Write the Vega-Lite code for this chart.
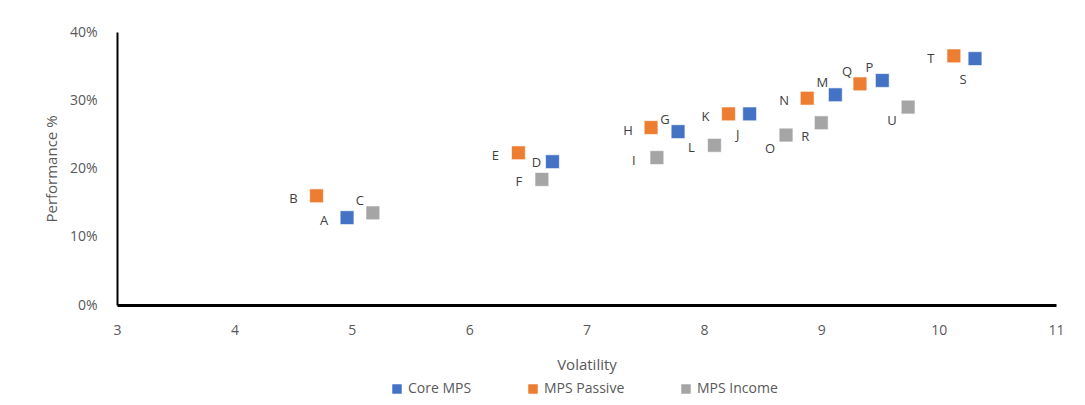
{
  "$schema": "https://vega.github.io/schema/vega-lite/v6.json",
  "autosize": {"type": "none"},
  "width": 939,
  "height": 273,
  "padding": {"left": 117, "top": 32, "right": 29, "bottom": 100},
  "background": "white",
  "config": {
    "view": {"stroke": null},
    "font": "Open Sans",
    "axis": {"grid": false, "ticks": false, "labelColor": "#595959", "titleColor": "#595959", "labelFontSize": 14, "titleFontSize": 15, "titleFontWeight": "normal", "domainColor": "#000000"},
    "legend": {"labelColor": "#595959", "labelFontSize": 14}
  },
  "data": {
    "values": [
      {"label": "A", "series": "Core MPS", "volatility": 4.96, "performance": 0.128},
      {"label": "B", "series": "MPS Passive", "volatility": 4.70, "performance": 0.160},
      {"label": "C", "series": "MPS Income", "volatility": 5.18, "performance": 0.135},
      {"label": "D", "series": "Core MPS", "volatility": 6.71, "performance": 0.210},
      {"label": "E", "series": "MPS Passive", "volatility": 6.42, "performance": 0.223},
      {"label": "F", "series": "MPS Income", "volatility": 6.62, "performance": 0.184},
      {"label": "G", "series": "Core MPS", "volatility": 7.78, "performance": 0.254},
      {"label": "H", "series": "MPS Passive", "volatility": 7.55, "performance": 0.260},
      {"label": "I", "series": "MPS Income", "volatility": 7.60, "performance": 0.216},
      {"label": "J", "series": "Core MPS", "volatility": 8.39, "performance": 0.280},
      {"label": "K", "series": "MPS Passive", "volatility": 8.21, "performance": 0.280},
      {"label": "L", "series": "MPS Income", "volatility": 8.09, "performance": 0.234},
      {"label": "M", "series": "Core MPS", "volatility": 9.12, "performance": 0.308},
      {"label": "N", "series": "MPS Passive", "volatility": 8.88, "performance": 0.303},
      {"label": "O", "series": "MPS Income", "volatility": 8.70, "performance": 0.249},
      {"label": "P", "series": "Core MPS", "volatility": 9.52, "performance": 0.329},
      {"label": "Q", "series": "MPS Passive", "volatility": 9.33, "performance": 0.324},
      {"label": "R", "series": "MPS Income", "volatility": 9.00, "performance": 0.267},
      {"label": "S", "series": "Core MPS", "volatility": 10.31, "performance": 0.361},
      {"label": "T", "series": "MPS Passive", "volatility": 10.13, "performance": 0.365},
      {"label": "U", "series": "MPS Income", "volatility": 9.74, "performance": 0.290}
    ]
  },
  "encoding": {
    "x": {"field": "volatility", "type": "quantitative", "scale": {"domain": [3, 11], "nice": false, "zero": false},
      "axis": {"title": "Volatility", "values": [3,4,5,6,7,8,9,10,11], "labelPadding": 18, "titlePadding": 20, "domainWidth": 3, "labelFlush": false}},
    "y": {"field": "performance", "type": "quantitative", "scale": {"domain": [0, 0.4], "nice": false},
      "axis": {"title": "Performance %", "values": [0, 0.1, 0.2, 0.3, 0.4], "format": ".0%", "labelPadding": 20, "titlePadding": 10, "domainWidth": 2}}
  },
  "layer": [
    {
      "mark": {"type": "square", "size": 190, "opacity": 1, "stroke": "white", "strokeWidth": 0.6},
      "encoding": {
        "color": {"field": "series", "type": "nominal",
          "scale": {"domain": ["Core MPS", "MPS Passive", "MPS Income"], "range": ["#4472C4", "#ED7D31", "#A5A5A5"]},
          "legend": {"title": null, "orient": "none", "direction": "horizontal", "legendX": 273, "legendY": 350, "symbolType": "square", "symbolSize": 90, "symbolStrokeWidth": 0, "columnPadding": 54, "labelOffset": 4}}
      }
    },
    {
      "transform": [{"filter": {"field": "label", "oneOf": ["A","B","E","F","H","I","K","L","N","T"]}}],
      "mark": {"type": "text", "dx": -23, "dy": 3, "fontSize": 13, "color": "#404040"},
      "encoding": {"text": {"field": "label"}}
    },
    {
      "transform": [{"filter": {"field": "label", "oneOf": ["C","G","M","Q","P"]}}],
      "mark": {"type": "text", "dx": -13, "dy": -12, "fontSize": 13, "color": "#404040"},
      "encoding": {"text": {"field": "label"}}
    },
    {
      "transform": [{"filter": {"field": "label", "oneOf": ["D"]}}],
      "mark": {"type": "text", "dx": -16, "dy": 1, "fontSize": 13, "color": "#404040"},
      "encoding": {"text": {"field": "label"}}
    },
    {
      "transform": [{"filter": {"field": "label", "oneOf": ["O","R","U"]}}],
      "mark": {"type": "text", "dx": -16, "dy": 14, "fontSize": 13, "color": "#404040"},
      "encoding": {"text": {"field": "label"}}
    },
    {
      "transform": [{"filter": {"field": "label", "oneOf": ["J","S"]}}],
      "mark": {"type": "text", "dx": -12, "dy": 21, "fontSize": 13, "color": "#404040"},
      "encoding": {"text": {"field": "label"}}
    }
  ]
}
